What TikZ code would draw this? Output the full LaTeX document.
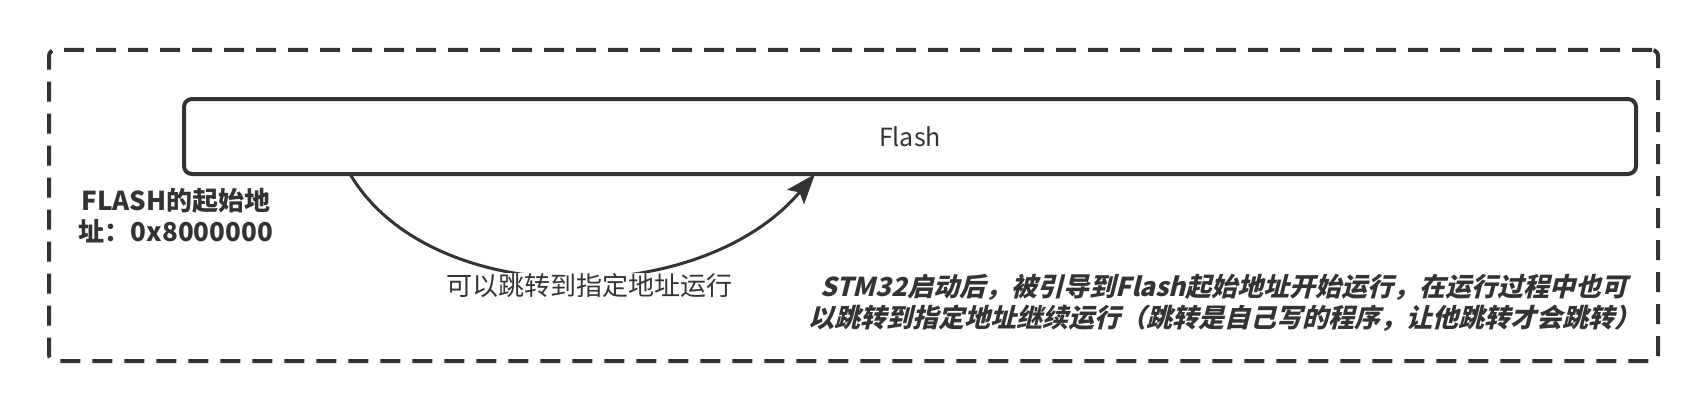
\documentclass[tikz,border=0pt]{standalone}
\usepackage{fontspec}
\setmainfont{Noto Sans CJK SC}
\newfontfamily\cjkbi[FakeSlant=0.25]{Noto Sans CJK SC}
\usetikzlibrary{arrows.meta}
\definecolor{ink}{HTML}{333333}
\begin{document}
\begin{tikzpicture}[x=1pt,y=-1pt,line join=round,
  frame/.style={draw=ink,line width=4pt,dash pattern=on 20pt off 12pt,rounded corners=6pt},
  box/.style={draw=ink,line width=4pt,rounded corners=8pt,fill=white,text=ink,font=\fontsize{25}{30}\selectfont},
  lab/.style={text=ink,font=\fontsize{26}{31}\selectfont,fill=white,inner sep=1pt},
  boldlab/.style={text=ink,font=\fontsize{26}{31}\selectfont\bfseries,align=center,inner sep=0pt},
  desclab/.style={text=ink,font=\fontsize{26}{31}\selectfont\cjkbi\bfseries,align=center,inner sep=0pt},
  arr/.style={draw=ink,line width=3pt,-{Stealth[length=30pt,width=22pt,inset=6pt]}}]
\useasboundingbox (0,0) rectangle (1708,412);
\node[frame,minimum width=1609pt,minimum height=311pt] (outer) at (853.5,205.5) {};
\node[box,minimum width=1452pt,minimum height=75pt] (flash) at (910,136.5) {Flash};
\coordinate (s) at (350,174);
\coordinate (e) at (815,174);
\draw[arr] (s) .. controls (430,310) and (700,310) .. (e);
\node[lab] (jump) at (589,286) {可以跳转到指定地址运行};
\node[boldlab] (addr) at (176,216) {FLASH的起始地\\址：0x8000000};
\node[desclab] (desc) at (1224,303) {STM32启动后，被引导到Flash起始地址开始运行，在运行过程中也可\\以跳转到指定地址继续运行（跳转是自己写的程序，让他跳转才会跳转）};
\end{tikzpicture}
\end{document}
